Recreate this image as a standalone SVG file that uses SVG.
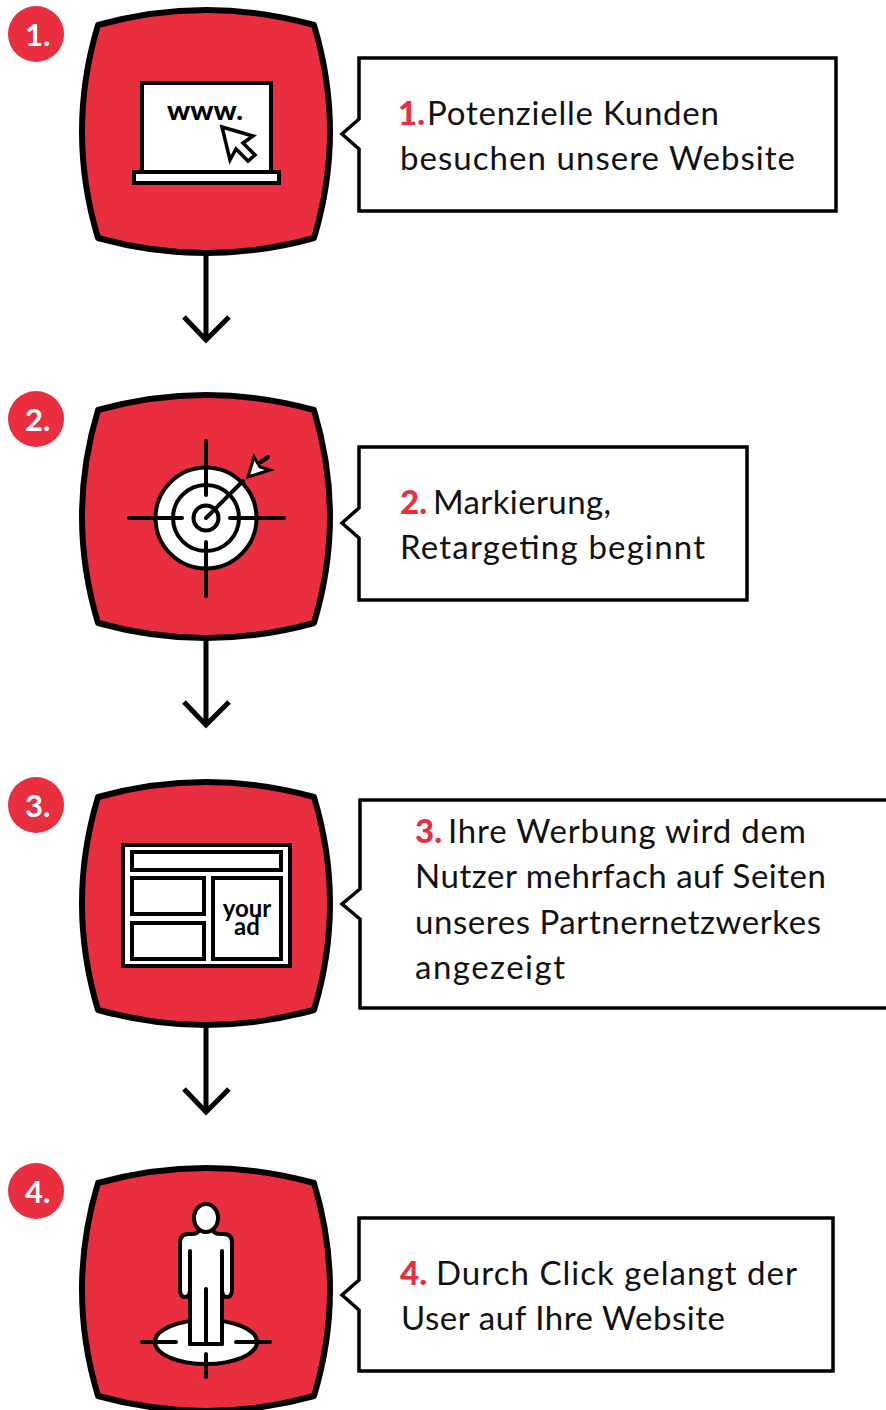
<svg xmlns="http://www.w3.org/2000/svg" xmlns:xlink="http://www.w3.org/1999/xlink" width="886" height="1410" viewBox="0 0 886 1410">
<style>
.blob{fill:#e92e3f;stroke:#000;stroke-width:6;stroke-linejoin:round}
.badge{fill:#e92e3f}
.badgeT{font:700 31px Lato,"Liberation Sans",sans-serif;fill:#fff}
.box{fill:#fff;stroke:#000;stroke-width:3.5;stroke-linejoin:miter}
.t{font:400 33px Lato,"Noto Sans",sans-serif;fill:#111}
.n{font-weight:900;fill:#e92e3f}
.i{fill:#fff;stroke:#000;stroke-width:4;stroke-linejoin:miter}
.l{fill:none;stroke:#000;stroke-width:4;stroke-linecap:round;stroke-linejoin:round}
.conn{fill:none;stroke:#000;stroke-width:5}
</style>
<defs>
<path id="blob" class="blob" d="M98,25 Q206,-5 314,25 Q346,131.500 314,238 Q206,268 98,238 Q66,131.500 98,25Z"/>
</defs>
<rect width="886" height="1410" fill="#fff"/>
<g id="connectors">
<path class="conn" d="M206,255V340M184,317L206,340L229,317"/>
<path class="conn" d="M206,640V726M184,702L206,725L229,702"/>
<path class="conn" d="M206,1027V1112M184,1089L206,1112L229,1089"/>
</g>
<g id="node-1">
<circle class="badge" cx="36" cy="34" r="28"/>
<text class="badgeT" x="25" y="46">1.</text>
<use href="#blob"/>
<rect class="i" x="142" y="83" width="129" height="89"/>
<rect class="i" x="134" y="172" width="145" height="11"/>
<text x="167" y="120" font-family="Lato,'Liberation Sans',sans-serif" font-weight="900" font-size="27" textLength="76" lengthAdjust="spacingAndGlyphs" fill="#000">www.</text>
<path class="i" style="stroke-width:3.500" d="M222,127L253,136L243,143L255,155L248,161L236,149L230,160Z"/>
<path class="box" d="M359,119V58H836V211H359V149L342,134Z"/>
<text class="t" x="398" y="125"><tspan class="n">1.</tspan></text>
<text class="t" x="427" y="125" textLength="292">Potenzielle Kunden</text>
<text class="t" x="400" y="170" textLength="395">besuchen unsere Website</text>
</g>
<g id="node-2">
<circle class="badge" cx="36" cy="419" r="28"/>
<text class="badgeT" x="25" y="431">2.</text>
<use href="#blob" y="385"/>
<circle class="i" cx="206" cy="518" r="50.500"/>
<circle class="i" cx="206" cy="518" r="33"/>
<circle class="i" cx="206" cy="518" r="12.500"/>
<path class="l" d="M206,441V495M206,542V596M129,518H182M230,518H284M206,518L243,481M261,462L268,457"/>
<path class="i" style="stroke-width:3" d="M254,457L260,467L270,470L248,477Z"/>
<path class="box" d="M359,508V447H747V600H359V538L342,523Z"/>
<text class="t" x="400" y="514"><tspan class="n">2.</tspan></text>
<text class="t" x="433" y="514" textLength="178">Markierung,</text>
<text class="t" x="400" y="559" textLength="305">Retargeting beginnt</text>
</g>
<g id="node-3">
<circle class="badge" cx="36" cy="805" r="28"/>
<text class="badgeT" x="25" y="817">3.</text>
<use href="#blob" y="772"/>
<rect class="i" x="123" y="845" width="167" height="121"/>
<rect class="i" x="132" y="852" width="149" height="18"/>
<rect class="i" x="132" y="878" width="72" height="36"/>
<rect class="i" x="132" y="923" width="72" height="36"/>
<rect class="i" x="213" y="878" width="68" height="81"/>
<text x="247" y="917" text-anchor="middle" font-family="Lato,'Liberation Sans',sans-serif" font-weight="700" font-size="24" fill="#000">your</text>
<text x="247" y="935" text-anchor="middle" font-family="Lato,'Liberation Sans',sans-serif" font-weight="700" font-size="24" fill="#000">ad</text>
<path class="box" d="M886,800H360V889L342,904L360,919V1008H886"/>
<text class="t" x="415" y="843"><tspan class="n">3.</tspan></text>
<text class="t" x="448" y="843" textLength="358">Ihre Werbung wird dem</text>
<text class="t" x="415" y="888" textLength="411">Nutzer mehrfach auf Seiten</text>
<text class="t" x="415" y="934" textLength="406">unseres Partnernetzwerkes</text>
<text class="t" x="415" y="979" textLength="150">angezeigt</text>
</g>
<g id="node-4">
<circle class="badge" cx="36" cy="1191" r="28"/>
<text class="badgeT" x="25" y="1203">4.</text>
<use href="#blob" y="1158"/>
<ellipse class="i" cx="206" cy="1342" rx="51" ry="22"/>
<path class="i" style="stroke-linejoin:round" d="M199,1229Q199,1234 192,1234H188Q180,1234 180,1243V1289Q180,1297 185,1297Q190,1297 190,1289V1344H222V1289Q222,1297 227,1297Q232,1297 232,1289V1243Q232,1234 224,1234H220Q213,1234 213,1229Z"/>
<rect x="192" y="1290" width="28" height="52" fill="#fff"/>
<ellipse class="i" cx="206" cy="1218" rx="12" ry="14"/>
<path class="l" d="M190,1251V1344M222,1251V1344M206,1289V1344M142,1342H176M236,1342H270M206,1354V1377"/>
<path class="box" d="M359,1280V1218H833V1371H359V1310L342,1295Z"/>
<text class="t" x="400" y="1285"><tspan class="n">4.</tspan></text>
<text class="t" x="436" y="1285" textLength="361">Durch Click gelangt der</text>
<text class="t" x="401" y="1330" textLength="324">User auf Ihre Website</text>
</g>
</svg>
